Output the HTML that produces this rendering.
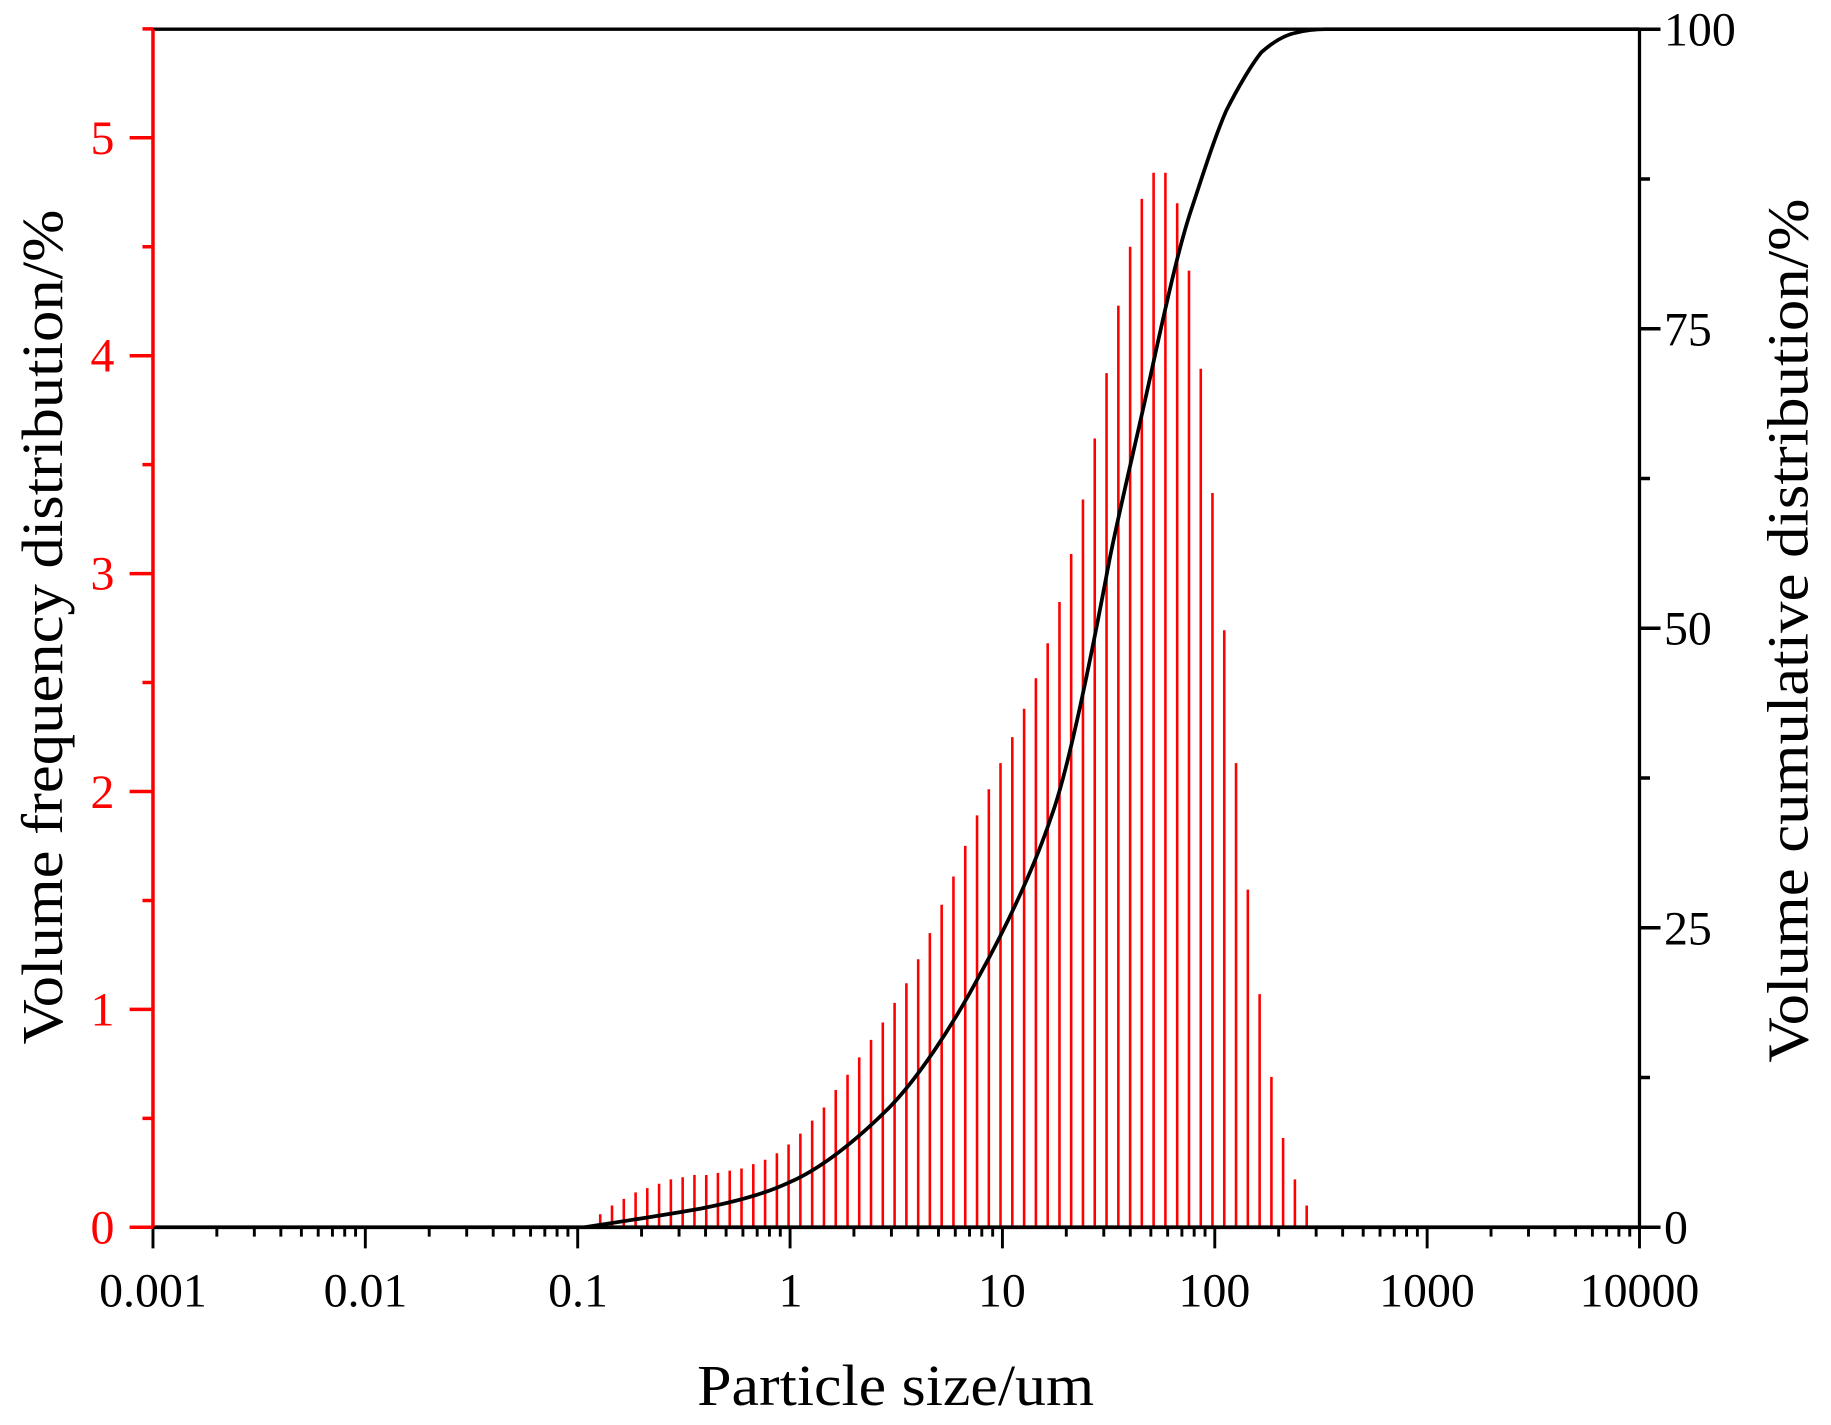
<!DOCTYPE html>
<html><head><meta charset="utf-8"><style>html,body{margin:0;padding:0;background:#fff}svg{display:block}</style></head>
<body>
<svg width="1831" height="1425" viewBox="0 0 1568 1220.3" preserveAspectRatio="none" xmlns="http://www.w3.org/2000/svg" xmlns:xlink="http://www.w3.org/1999/xlink" font-family="Liberation Serif, serif">
<defs>
<path id="mt" d="M54.7,0v8M86.8,0v8M109.5,0v8M127.1,0v8M141.5,0v8M153.7,0v8M164.2,0v8M173.5,0v8" stroke="#000" stroke-width="2.5"/>
</defs>
<path stroke="red" stroke-width="2.2" fill="none" d="M514,1051V1039.8M524.1,1051V1032.3M534.2,1051V1026.7M544.3,1051V1021.1M554.3,1051V1017.4M564.4,1051V1013.7M574.5,1051V1010M584.6,1051V1008.1M594.7,1051V1006.2M604.8,1051V1006.2M614.8,1051V1004.4M624.9,1051V1002.5M635,1051V1000.6M645.1,1051V996.9M655.2,1051V993.2M665.3,1051V987.6M675.3,1051V980.1M685.4,1051V970.8M695.5,1051V959.6M705.6,1051V948.4M715.7,1051V933.4M725.8,1051V920.4M735.8,1051V905.5M745.9,1051V890.5M756,1051V875.6M766.1,1051V858.8M776.2,1051V842M786.3,1051V821.5M796.3,1051V799.1M806.4,1051V774.8M816.5,1051V750.6M826.6,1051V724.4M836.7,1051V698.3M846.8,1051V675.9M856.8,1051V653.5M866.9,1051V631.2M877,1051V606.9M887.1,1051V580.8M897.2,1051V550.9M907.3,1051V515.5M917.3,1051V474.4M927.4,1051V427.8M937.5,1051V375.5M947.6,1051V319.5M957.7,1051V261.7M967.8,1051V211.3M977.8,1051V170.3M987.9,1051V147.9M998,1051V147.9M1008.1,1051V174M1018.2,1051V231.8M1028.3,1051V315.8M1038.3,1051V422.2M1048.4,1051V539.7M1058.5,1051V653.5M1068.6,1051V761.8M1078.7,1051V851.3M1088.8,1051V922.2M1098.8,1051V974.5M1108.9,1051V1010M1119,1051V1032.3"/>
<path d="M500,1051 C520,1048 560,1042 600,1035 C640,1027 660,1020 677,1012 C700,1002 730,980 760,950 C785,925 815,880 840,833 C860,797 885,745 900,700 C915,660 935,560 950,480 C960,430 975,370 990,300 C1000,255 1010,210 1020,180 C1030,150 1040,118 1050,95 C1060,75 1072,55 1080,45 C1090,36 1100,30 1110,28 C1118,26 1125,25 1135,25 L1404,25" fill="none" stroke="#000" stroke-width="3.2"/>
<line x1="131" y1="25" x2="1404" y2="25" stroke="#000" stroke-width="2.8"/>
<line x1="1404" y1="25" x2="1404" y2="1051" stroke="#000" stroke-width="2.8"/>
<line x1="131" y1="1051" x2="1404" y2="1051" stroke="#000" stroke-width="3.2"/>
<line x1="131" y1="25" x2="131" y2="1051" stroke="red" stroke-width="3"/>
<g transform="translate(131,1051)">
<use xlink:href="#mt" href="#mt" x="0"/>
<use xlink:href="#mt" href="#mt" x="181.86"/>
<use xlink:href="#mt" href="#mt" x="363.72"/>
<use xlink:href="#mt" href="#mt" x="545.58"/>
<use xlink:href="#mt" href="#mt" x="727.44"/>
<use xlink:href="#mt" href="#mt" x="909.3"/>
<use xlink:href="#mt" href="#mt" x="1091.16"/>
</g>
<path stroke="#000" stroke-width="2.5" d="M131,1051v18M312.86,1051v18M494.72,1051v18M676.58,1051v18M858.44,1051v18M1040.3,1051v18M1222.16,1051v18M1404,1051v18"/>
<path stroke="red" stroke-width="3" d="M111,1051h20M122,957.7h9M111,864.4h20M122,771.1h9M111,677.8h20M122,584.5h9M111,491.2h20M122,397.9h9M111,304.6h20M122,211.3h9M111,118h20M122,24.7h9"/>
<path stroke="#000" stroke-width="3" d="M1404,1051h18M1404,922.75h9M1404,794.5h18M1404,666.25h9M1404,538h18M1404,409.75h9M1404,281.5h18M1404,153.25h9M1404,25h18"/>
<g font-size="41" fill="red" text-anchor="end">
<text x="98" y="1065">0</text><text x="98" y="878">1</text><text x="98" y="692">2</text><text x="98" y="505">3</text><text x="98" y="318">4</text><text x="98" y="132">5</text>
</g>
<g font-size="41" fill="#000" text-anchor="start">
<text x="1425" y="1065">0</text><text x="1425" y="809">25</text><text x="1425" y="552">50</text><text x="1425" y="296">75</text><text x="1425" y="39">100</text>
</g>
<g font-size="41" fill="#000" text-anchor="middle">
<text x="131" y="1119">0.001</text><text x="313" y="1119">0.01</text><text x="495" y="1119">0.1</text><text x="677" y="1119">1</text><text x="858" y="1119">10</text><text x="1040" y="1119">100</text><text x="1222" y="1119">1000</text><text x="1404" y="1119">10000</text>
</g>
<text x="767" y="1203" font-size="50" text-anchor="middle" textLength="340" lengthAdjust="spacingAndGlyphs">Particle size/um</text>
<text transform="translate(53,537) rotate(-90)" font-size="50" text-anchor="middle" textLength="715" lengthAdjust="spacingAndGlyphs">Volume frequency distribution/%</text>
<text transform="translate(1548,540) rotate(-90)" font-size="50" text-anchor="middle" textLength="740" lengthAdjust="spacingAndGlyphs">Volume cumulative distribution/%</text>
</svg>
</body></html>
